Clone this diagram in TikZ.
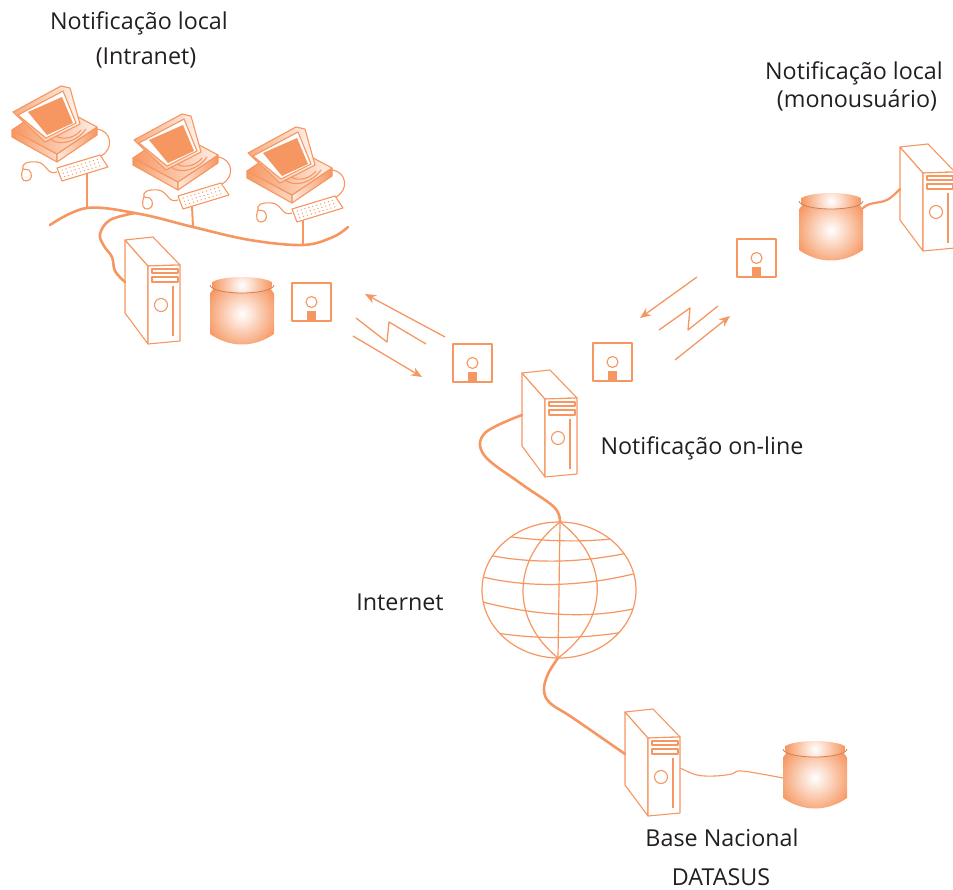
\documentclass[tikz,border=0pt]{standalone}
\usepackage{fontspec}
\setmainfont{Open Sans}
\usetikzlibrary{arrows.meta}
\definecolor{org}{RGB}{246,150,96}
\definecolor{ink}{RGB}{35,31,32}

\tikzset{
  thinline/.style={draw=org, line width=1.1pt},
  cable/.style={draw=org, line width=2.6pt, line cap=round},
  cord/.style={draw=org, line width=1.1pt},
  sig/.style={draw=org, line width=1.3pt},
  sigarrow/.style={sig, -{Stealth[length=11pt,width=9pt]}},
  label/.style={text=ink, font=\fontsize{23.3}{27}\selectfont, anchor=base, inner sep=0pt},
  % tower server, origin at the back top-left corner
  tower/.pic={
    \draw[thinline, fill=white] (0,0) -- (23,26) -- (23,104) -- (0,73) -- cycle;
    \draw[thinline, fill=white] (0,0) -- (28,-3) -- (55,25) -- (23,26) -- cycle;
    \draw[thinline, fill=white] (23,26) -- (55,25) -- (55,101) -- (23,104) -- cycle;
    \draw[thinline] (27,29) rectangle (53,33);
    \draw[thinline] (27,37) rectangle (53,42);
    \draw[thinline] (36,65) circle[radius=6.5pt];
    \draw[org, line width=2pt] (48,46) -- (48,96);
    \coordinate (-port) at (0,42);
    \coordinate (-rport) at (55,56);
  },
  % database cylinder, origin at the centre of the top ellipse
  database/.pic={
    \begin{scope}
      \clip (-32,0) -- (-32,49) .. controls (-12,63) and (12,63) .. (32,49) -- (32,0) -- cycle;
      \shade[inner color=white, outer color=org] (0,29) circle[radius=38pt];
    \end{scope}
    \begin{scope}
      \clip (0,0) ellipse[x radius=32pt, y radius=8pt];
      \shade[inner color=white, outer color=org] (0,0) circle[radius=30pt];
    \end{scope}
    \draw[org!85!black, line width=0.8pt] (-32,0) arc[start angle=180, end angle=360, x radius=32pt, y radius=8pt];
    \coordinate (-port) at (-32,29);
    \coordinate (-rport) at (32,7);
  },
  % floppy disk, origin at the top-left corner
  floppy/.pic={
    \draw[thinline, fill=white] (0,0) rectangle (39,38);
    \draw[thinline] (19.5,19) circle[radius=5.5pt];
    \fill[org] (15,28) rectangle (24,38);
  },
  % workstation: case, monitor, keyboard and mouse
  pc/.pic={
    \draw[cord] (97,129) .. controls (112,131) and (114,149) .. (101,156);
    \draw[cord] (57,172) .. controls (47,176) and (47,163) .. (37,162) .. controls (27,161) and (21,164) .. (23,169);
    \draw[cord, fill=white] (23,169) .. controls (20,176) and (22,182) .. (27,181) .. controls (32,180) and (33,174) .. (29,170) -- cycle;
    \shadedraw[thinline, left color=org, right color=org!35] (12,130) -- (57,154) -- (57,162) -- (12,137) -- cycle;
    \shadedraw[thinline, left color=org!20, right color=org] (57,154) -- (97,127) -- (97,135) -- (57,162) -- cycle;
    \shadedraw[thinline, left color=org, right color=org!15] (12,130) -- (52,103) -- (97,127) -- (57,154) -- cycle;
    \draw[cord] (50,139) .. controls (60,147) and (78,141) .. (86,129);
    \draw[cord] (56,136) .. controls (64,141) and (76,137) .. (81,130);
    \shadedraw[thinline, left color=org!80, right color=org!10] (13,112) -- (61,86) -- (70,88) -- (80,124) -- (45,142) -- cycle;
    \draw[thinline, fill=white] (18,115) -- (63,91) -- (76,123) -- (46,138) -- cycle;
    \fill[org] (28,112) -- (62,97) -- (73,123) -- (47,135) -- cycle;
    \draw[thinline, fill=white] (57,168) -- (100,155) -- (108,167) -- (62,181) -- cycle;
    \foreach \i in {1,...,10}
      \foreach \j in {1,2,3}
        \fill[org] ({57+\i*43/11+\j*5/4},{168-\i*13/11+\j*13/4}) circle[radius=0.7pt];
  },
}

\begin{document}
\begin{tikzpicture}[x=1pt, y=-1pt, line join=round]
\useasboundingbox (0,0) rectangle (953,890);

% ---------- local network (Intranet) ----------
\coordinate (lan1) at (87,208);
\coordinate (lan2) at (193,227);
\coordinate (lan3) at (303,245);
\coordinate (lanjoin) at (135,213);
\draw[cable] plot[smooth, tension=0.6] coordinates {(50,225) (lan1) (140,214) (lan2) (250,240) (lan3) (333,237) (348,227)};
\coordinate (kb1) at (87,173);
\coordinate (kb2) at (192,206);
\coordinate (kb3) at (303,220);
\draw[org, line width=2pt] (kb1) -- (lan1);
\draw[org, line width=2pt] (kb2) -- (lan2);
\draw[org, line width=2pt] (kb3) -- (lan3);

\pic (pc1) at (0,0) {pc};
\pic (pc2) at (121,28) {pc};
\pic (pc3) at (235,41) {pc};

\pic (t1) at (125,240) {tower};
\draw[cable] plot[smooth, tension=0.6] coordinates {(lanjoin) (110,220) (100,234) (104,246) (112,257) (115,271) (t1-port)};
\pic (db1) at (242,285) {database};
\pic (f1) at (292,283) {floppy};

% ---------- transmission signals ----------
\coordinate (sa1) at (445,337); \coordinate (sa2) at (365,294);
\coordinate (sb1) at (353,336); \coordinate (sb2) at (422,377);
\draw[sigarrow] (sa1) -- (sa2);
\draw[sig] (356,318) -- (387,342) -- (389,322) -- (426,344);
\draw[sigarrow] (sb1) -- (sb2);

\coordinate (sc1) at (697,277); \coordinate (sc2) at (640,318);
\coordinate (sd1) at (675,360); \coordinate (sd2) at (730,316);
\draw[sigarrow] (sc1) -- (sc2);
\draw[sig] (659,330) -- (690,308) -- (688,330) -- (718,306);
\draw[sigarrow] (sd1) -- (sd2);

\pic (f2) at (453,344) {floppy};
\pic (f3) at (593,343) {floppy};
\pic (f4) at (737,239) {floppy};

% ---------- single-user station ----------
\pic (db2) at (831,201) {database};
\pic (t3) at (900,147) {tower};
\draw[cable, line width=2.2pt] plot[smooth, tension=0.6] coordinates {(db2-rport) (870,204) (887,200) (t3-port)};

% ---------- online server and Internet ----------
\coordinate (gc) at (559,590);
\coordinate (gtop) at (560,522);
\coordinate (gbot) at (558,658);
\pic (t2) at (522,373) {tower};
\draw[cable] plot[smooth, tension=0.6] coordinates {(t2-port) (485,433) (484,455) (520,483) (554,507) (gtop)};

\pic (t4) at (625,712) {tower};
\draw[cable] plot[smooth, tension=0.6] coordinates {(gbot) (548,674) (544,690) (550,703) (573,718) (t4-port)};

\draw[org, line width=1.2pt, fill=white] (gc) ellipse[x radius=77pt, y radius=68pt];
\begin{scope}
  \clip (gc) ellipse[x radius=77pt, y radius=68pt];
  \begin{scope}[org, line width=1.2pt]
    \draw (475,531) .. controls (530,542) and (590,545) .. (645,534);
    \draw (475,552) .. controls (530,566) and (590,563) .. (645,549);
    \draw (475,575) .. controls (530,590) and (590,586) .. (645,571);
    \draw (475,600) .. controls (530,615) and (590,621) .. (645,606);
    \draw (475,629) .. controls (530,641) and (590,640) .. (645,628);
  \end{scope}
\end{scope}
\draw[org, line width=1.2pt] (gtop) -- (gbot);
\draw[org, line width=1.2pt] (gtop) .. controls (511,560) and (511,620) .. (gbot);
\draw[org, line width=1.2pt] (gtop) .. controls (610,560) and (610,620) .. (gbot);

% ---------- national database ----------
\pic (db3) at (815,749) {database};
\draw[cord] plot[smooth, tension=0.6] coordinates {(t4-rport) (697,775) (715,776) (732,774) (742,771) (db3-port)};

% ---------- labels ----------
\node[label] (lbl1a) at (139,30) {Notificação local};
\node[label] (lbl1b) at (146,65) {(Intranet)};
\node[label] (lbl2a) at (854,80) {Notificação local};
\node[label] (lbl2b) at (857,108) {(monousuário)};
\node[label] (lbl3) at (702,454) {Notificação on-line};
\node[label] (lbl4) at (400,610) {Internet};
\node[label] (lbl5a) at (722,846) {Base Nacional};
\node[label] (lbl5b) at (721,885) {DATASUS};
\end{tikzpicture}
\end{document}
